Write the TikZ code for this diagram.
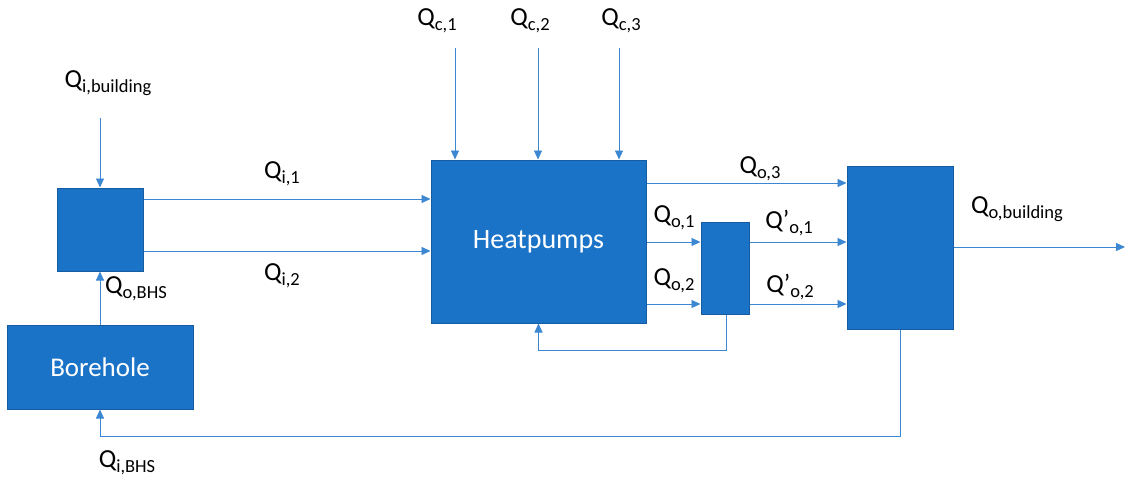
\documentclass[tikz,border=0pt]{standalone}
\usepackage{fontspec}
\setmainfont{Carlito}
\usetikzlibrary{arrows.meta}
\definecolor{boxfill}{RGB}{27,115,200}
\definecolor{boxline}{RGB}{22,92,160}
\definecolor{wire}{RGB}{60,135,210}
\newcommand{\lbl}[2]{\fontsize{26}{26}\selectfont #1\raisebox{-5pt}{\fontsize{18.5}{18.5}\selectfont #2}}
\tikzset{
  blk/.style={draw=boxline, fill=boxfill, line width=1pt, rectangle, inner sep=0pt, text=white, font=\fontsize{28}{28}\selectfont},
  arr/.style={draw=wire, line width=0.9pt, -{Triangle[length=9pt,width=8pt]}},
  qlabel/.style={inner sep=0pt, text=black}
}
\begin{document}
\begin{tikzpicture}[x=1pt,y=-1pt]
\useasboundingbox (0,0) rectangle (1126,484);
% blocks
\node[blk, minimum width=86pt, minimum height=83pt] (sb) at (100,229.5) {};
\node[blk, minimum width=186pt, minimum height=84pt, font=\fontsize{27}{27}\selectfont] (bh) at (100,367) {Borehole};
\node[blk, minimum width=215pt, minimum height=163pt] (hp) at (538.5,241.5) {Heatpumps};
\node[blk, minimum width=48pt, minimum height=92pt] (mb) at (725,268) {};
\node[blk, minimum width=106pt, minimum height=163pt] (rb) at (900,247.5) {};
% free ends
\coordinate (qib) at (100,118);
\coordinate (c1) at (455,48);
\coordinate (c2) at (538,48);
\coordinate (c3) at (619,48);
\coordinate (out) at (1125,247);
\coordinate (lp1) at (726,350);
\coordinate (lp2) at (900,436);
% connectors
\draw[arr] (qib) -- (sb.north);
\draw[arr] (bh.north) -- (sb.south);
\draw[arr] (sb.east |- 0,199) -- (hp.west |- 0,199);
\draw[arr] (sb.east |- 0,251) -- (hp.west |- 0,251);
\draw[arr] (c1) -- (c1 |- hp.north);
\draw[arr] (c2) -- (c2 |- hp.north);
\draw[arr] (c3) -- (c3 |- hp.north);
\draw[arr] (hp.east |- 0,183) -- (rb.west |- 0,183);
\draw[arr] (hp.east |- 0,242) -- (mb.west |- 0,242);
\draw[arr] (hp.east |- 0,304) -- (mb.west |- 0,304);
\draw[arr] (mb.east |- 0,242) -- (rb.west |- 0,242);
\draw[arr] (mb.east |- 0,304) -- (rb.west |- 0,304);
\draw[arr] (rb.east |- out) -- (out);
\draw[arr] (lp1 |- mb.south) -- (lp1) -| (hp.south);
\draw[arr] (rb.south) -- (lp2) -| (bh.south);
% labels
\node[qlabel] (l1) at (108,83) {\lbl{Q}{i,building}};
\node[qlabel] (l2) at (136,289) {\lbl{Q}{o,BHS}};
\node[qlabel] (l3) at (127,463) {\lbl{Q}{i,BHS}};
\node[qlabel] (l4) at (282,174) {\lbl{Q}{i,1}};
\node[qlabel] (l5) at (282,276) {\lbl{Q}{i,2}};
\node[qlabel] (l6) at (437,21) {\lbl{Q}{c,1}};
\node[qlabel] (l7) at (530,21) {\lbl{Q}{c,2}};
\node[qlabel] (l8) at (621,21) {\lbl{Q}{c,3}};
\node[qlabel] (l9) at (760,169) {\lbl{Q}{o,3}};
\node[qlabel] (l10) at (674,218) {\lbl{Q}{o,1}};
\node[qlabel] (l11) at (674,281) {\lbl{Q}{o,2}};
\node[qlabel] (l12) at (789,223) {\lbl{Q’}{o,1}};
\node[qlabel] (l13) at (790,287) {\lbl{Q’}{o,2}};
\node[qlabel] (l14) at (1017,209) {\lbl{Q}{o,building}};
\end{tikzpicture}
\end{document}
